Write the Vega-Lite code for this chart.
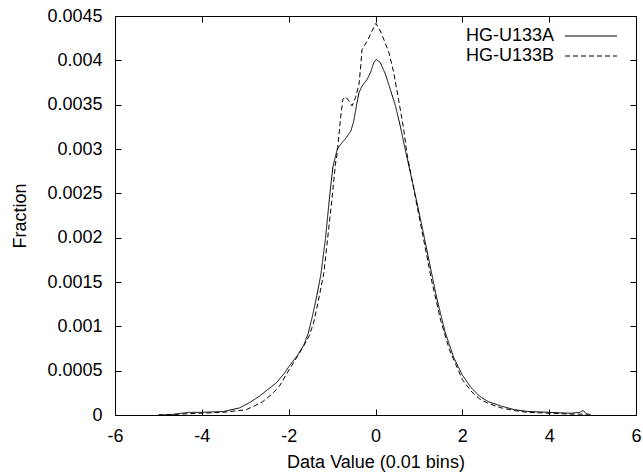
{
  "$schema": "https://vega.github.io/schema/vega-lite/v6.json",
  "width": 521,
  "height": 399,
  "autosize": {"type": "none"},
  "padding": {"left": 115, "top": 16, "right": 7, "bottom": 58},
  "background": "white",
  "config": {
    "view": {"stroke": "black", "strokeWidth": 1},
    "font": "Liberation Sans",
    "axis": {
      "grid": false,
      "domainColor": "black",
      "domainWidth": 1,
      "tickColor": "black",
      "tickWidth": 1,
      "tickSize": -6,
      "labelColor": "black",
      "labelFont": "Liberation Sans",
      "labelFontSize": 18,
      "titleFont": "Liberation Sans",
      "titleFontSize": 18,
      "titleFontWeight": "normal",
      "titleColor": "black"
    },
    "legend": {
      "labelFont": "Liberation Sans",
      "labelFontSize": 18,
      "labelColor": "black"
    }
  },
  "data": {
    "values": [
      {"s": "HG-U133A", "x": -5.0, "y": 0},
      {"s": "HG-U133A", "x": -4.7, "y": 0.000005},
      {"s": "HG-U133A", "x": -4.3, "y": 0.00003},
      {"s": "HG-U133A", "x": -4.0, "y": 0.00003},
      {"s": "HG-U133A", "x": -3.5, "y": 0.00004},
      {"s": "HG-U133A", "x": -3.13, "y": 0.00008},
      {"s": "HG-U133A", "x": -2.9, "y": 0.00014},
      {"s": "HG-U133A", "x": -2.68, "y": 0.00021},
      {"s": "HG-U133A", "x": -2.5, "y": 0.00028},
      {"s": "HG-U133A", "x": -2.29, "y": 0.00036},
      {"s": "HG-U133A", "x": -2.1, "y": 0.00047},
      {"s": "HG-U133A", "x": -1.99, "y": 0.00055},
      {"s": "HG-U133A", "x": -1.8, "y": 0.00067},
      {"s": "HG-U133A", "x": -1.65, "y": 0.00079},
      {"s": "HG-U133A", "x": -1.55, "y": 0.00092},
      {"s": "HG-U133A", "x": -1.45, "y": 0.00112},
      {"s": "HG-U133A", "x": -1.35, "y": 0.00135},
      {"s": "HG-U133A", "x": -1.26, "y": 0.00158},
      {"s": "HG-U133A", "x": -1.15, "y": 0.002},
      {"s": "HG-U133A", "x": -1.05, "y": 0.0025},
      {"s": "HG-U133A", "x": -0.98, "y": 0.0028},
      {"s": "HG-U133A", "x": -0.88, "y": 0.003},
      {"s": "HG-U133A", "x": -0.8, "y": 0.003054},
      {"s": "HG-U133A", "x": -0.69, "y": 0.003117},
      {"s": "HG-U133A", "x": -0.57, "y": 0.0032},
      {"s": "HG-U133A", "x": -0.5, "y": 0.003317},
      {"s": "HG-U133A", "x": -0.44, "y": 0.003486},
      {"s": "HG-U133A", "x": -0.38, "y": 0.003636},
      {"s": "HG-U133A", "x": -0.31, "y": 0.003711},
      {"s": "HG-U133A", "x": -0.19, "y": 0.003787},
      {"s": "HG-U133A", "x": -0.11, "y": 0.003869},
      {"s": "HG-U133A", "x": -0.04, "y": 0.003974},
      {"s": "HG-U133A", "x": 0.02, "y": 0.004012},
      {"s": "HG-U133A", "x": 0.11, "y": 0.003974},
      {"s": "HG-U133A", "x": 0.23, "y": 0.003843},
      {"s": "HG-U133A", "x": 0.34, "y": 0.003674},
      {"s": "HG-U133A", "x": 0.46, "y": 0.003486},
      {"s": "HG-U133A", "x": 0.57, "y": 0.00326},
      {"s": "HG-U133A", "x": 0.7, "y": 0.00296},
      {"s": "HG-U133A", "x": 0.9, "y": 0.00252},
      {"s": "HG-U133A", "x": 1.1, "y": 0.00206},
      {"s": "HG-U133A", "x": 1.3, "y": 0.00158},
      {"s": "HG-U133A", "x": 1.41, "y": 0.00132},
      {"s": "HG-U133A", "x": 1.6, "y": 0.00094},
      {"s": "HG-U133A", "x": 1.8, "y": 0.00065},
      {"s": "HG-U133A", "x": 2.0, "y": 0.00045},
      {"s": "HG-U133A", "x": 2.2, "y": 0.00031},
      {"s": "HG-U133A", "x": 2.4, "y": 0.00021},
      {"s": "HG-U133A", "x": 2.6, "y": 0.00015},
      {"s": "HG-U133A", "x": 2.9, "y": 0.0001},
      {"s": "HG-U133A", "x": 3.2, "y": 0.00006},
      {"s": "HG-U133A", "x": 3.5, "y": 0.00004},
      {"s": "HG-U133A", "x": 4.0, "y": 0.00003},
      {"s": "HG-U133A", "x": 4.5, "y": 0.00002},
      {"s": "HG-U133A", "x": 4.7, "y": 0.00003},
      {"s": "HG-U133A", "x": 4.78, "y": 0.00005},
      {"s": "HG-U133A", "x": 4.85, "y": 0.00002},
      {"s": "HG-U133A", "x": 4.9, "y": 0},
      {"s": "HG-U133B", "x": -5.0, "y": 0},
      {"s": "HG-U133B", "x": -4.5, "y": 0.00001},
      {"s": "HG-U133B", "x": -4.05, "y": 0.00002},
      {"s": "HG-U133B", "x": -3.5, "y": 0.00003},
      {"s": "HG-U133B", "x": -2.98, "y": 0.00006},
      {"s": "HG-U133B", "x": -2.8, "y": 0.0001},
      {"s": "HG-U133B", "x": -2.6, "y": 0.00015},
      {"s": "HG-U133B", "x": -2.4, "y": 0.00023},
      {"s": "HG-U133B", "x": -2.22, "y": 0.00032},
      {"s": "HG-U133B", "x": -1.99, "y": 0.00051},
      {"s": "HG-U133B", "x": -1.8, "y": 0.00066},
      {"s": "HG-U133B", "x": -1.64, "y": 0.00079},
      {"s": "HG-U133B", "x": -1.52, "y": 0.0009},
      {"s": "HG-U133B", "x": -1.42, "y": 0.00105},
      {"s": "HG-U133B", "x": -1.32, "y": 0.00128},
      {"s": "HG-U133B", "x": -1.19, "y": 0.0016},
      {"s": "HG-U133B", "x": -1.1, "y": 0.002},
      {"s": "HG-U133B", "x": -1.0, "y": 0.00245},
      {"s": "HG-U133B", "x": -0.92, "y": 0.00284},
      {"s": "HG-U133B", "x": -0.88, "y": 0.00296},
      {"s": "HG-U133B", "x": -0.8, "y": 0.003373},
      {"s": "HG-U133B", "x": -0.75, "y": 0.003561},
      {"s": "HG-U133B", "x": -0.69, "y": 0.00359},
      {"s": "HG-U133B", "x": -0.61, "y": 0.003542},
      {"s": "HG-U133B", "x": -0.54, "y": 0.003486},
      {"s": "HG-U133B", "x": -0.46, "y": 0.00358},
      {"s": "HG-U133B", "x": -0.38, "y": 0.00373},
      {"s": "HG-U133B", "x": -0.34, "y": 0.003937},
      {"s": "HG-U133B", "x": -0.31, "y": 0.004125},
      {"s": "HG-U133B", "x": -0.19, "y": 0.004218},
      {"s": "HG-U133B", "x": -0.08, "y": 0.004331},
      {"s": "HG-U133B", "x": 0.01, "y": 0.004418},
      {"s": "HG-U133B", "x": 0.11, "y": 0.004331},
      {"s": "HG-U133B", "x": 0.19, "y": 0.004238},
      {"s": "HG-U133B", "x": 0.31, "y": 0.004086},
      {"s": "HG-U133B", "x": 0.42, "y": 0.003861},
      {"s": "HG-U133B", "x": 0.53, "y": 0.003561},
      {"s": "HG-U133B", "x": 0.65, "y": 0.003223},
      {"s": "HG-U133B", "x": 0.72, "y": 0.00296},
      {"s": "HG-U133B", "x": 0.9, "y": 0.0025},
      {"s": "HG-U133B", "x": 1.1, "y": 0.002},
      {"s": "HG-U133B", "x": 1.3, "y": 0.0015},
      {"s": "HG-U133B", "x": 1.5, "y": 0.00107},
      {"s": "HG-U133B", "x": 1.7, "y": 0.00074},
      {"s": "HG-U133B", "x": 2.0, "y": 0.0004},
      {"s": "HG-U133B", "x": 2.2, "y": 0.00027},
      {"s": "HG-U133B", "x": 2.4, "y": 0.00018},
      {"s": "HG-U133B", "x": 2.6, "y": 0.00013},
      {"s": "HG-U133B", "x": 2.9, "y": 0.00008},
      {"s": "HG-U133B", "x": 3.2, "y": 0.00005},
      {"s": "HG-U133B", "x": 3.5, "y": 0.00003},
      {"s": "HG-U133B", "x": 4.0, "y": 0.00002},
      {"s": "HG-U133B", "x": 4.5, "y": 0.00001},
      {"s": "HG-U133B", "x": 4.9, "y": 0.00001},
      {"s": "HG-U133B", "x": 5.0, "y": 0}
    ]
  },
  "layer": [
    {
      "mark": {"type": "line", "color": "black", "strokeWidth": 1, "clip": true},
      "encoding": {
        "x": {
          "field": "x", "type": "quantitative",
          "scale": {"domain": [-6, 6], "nice": false, "zero": false},
          "axis": {"orient": "bottom", "values": [-6, -4, -2, 0, 2, 4, 6], "labelExpr": "'' + datum.value", "title": "Data Value (0.01 bins)", "labelPadding": 18, "titlePadding": 8, "labelFlush": false, "labelOverlap": false}
        },
        "y": {
          "field": "y", "type": "quantitative",
          "scale": {"domain": [0, 0.0045], "nice": false},
          "axis": {"orient": "left", "values": [0, 0.0005, 0.001, 0.0015, 0.002, 0.0025, 0.003, 0.0035, 0.004, 0.0045], "format": "~g", "title": "Fraction", "labelPadding": 19, "titlePadding": 17, "labelFlush": false, "labelOverlap": false}
        },
        "strokeDash": {
          "field": "s", "type": "nominal",
          "scale": {"domain": ["HG-U133A", "HG-U133B"], "range": [[1, 0], [5, 3]]},
          "legend": {
            "title": null,
            "orient": "none",
            "legendX": 467,
            "legendY": 11,
            "symbolType": "M-4,0H4",
            "symbolSize": 169,
            "symbolStrokeWidth": 1,
            "symbolStrokeColor": "black",
            "labelAlign": "right",
            "labelOffset": -46,
            "rowPadding": 2
          }
        },
        "detail": {"field": "s"}
      }
    },
    {
      "mark": {"type": "line", "strokeOpacity": 0},
      "encoding": {
        "x": {"field": "x", "type": "quantitative", "axis": {"orient": "top", "values": [-6, -4, -2, 0, 2, 4, 6], "labels": false, "title": null}},
        "y": {"field": "y", "type": "quantitative", "axis": {"orient": "right", "values": [0, 0.0005, 0.001, 0.0015, 0.002, 0.0025, 0.003, 0.0035, 0.004, 0.0045], "labels": false, "title": null}},
        "detail": {"field": "s"}
      }
    }
  ],
  "resolve": {"axis": {"x": "independent", "y": "independent"}}
}
